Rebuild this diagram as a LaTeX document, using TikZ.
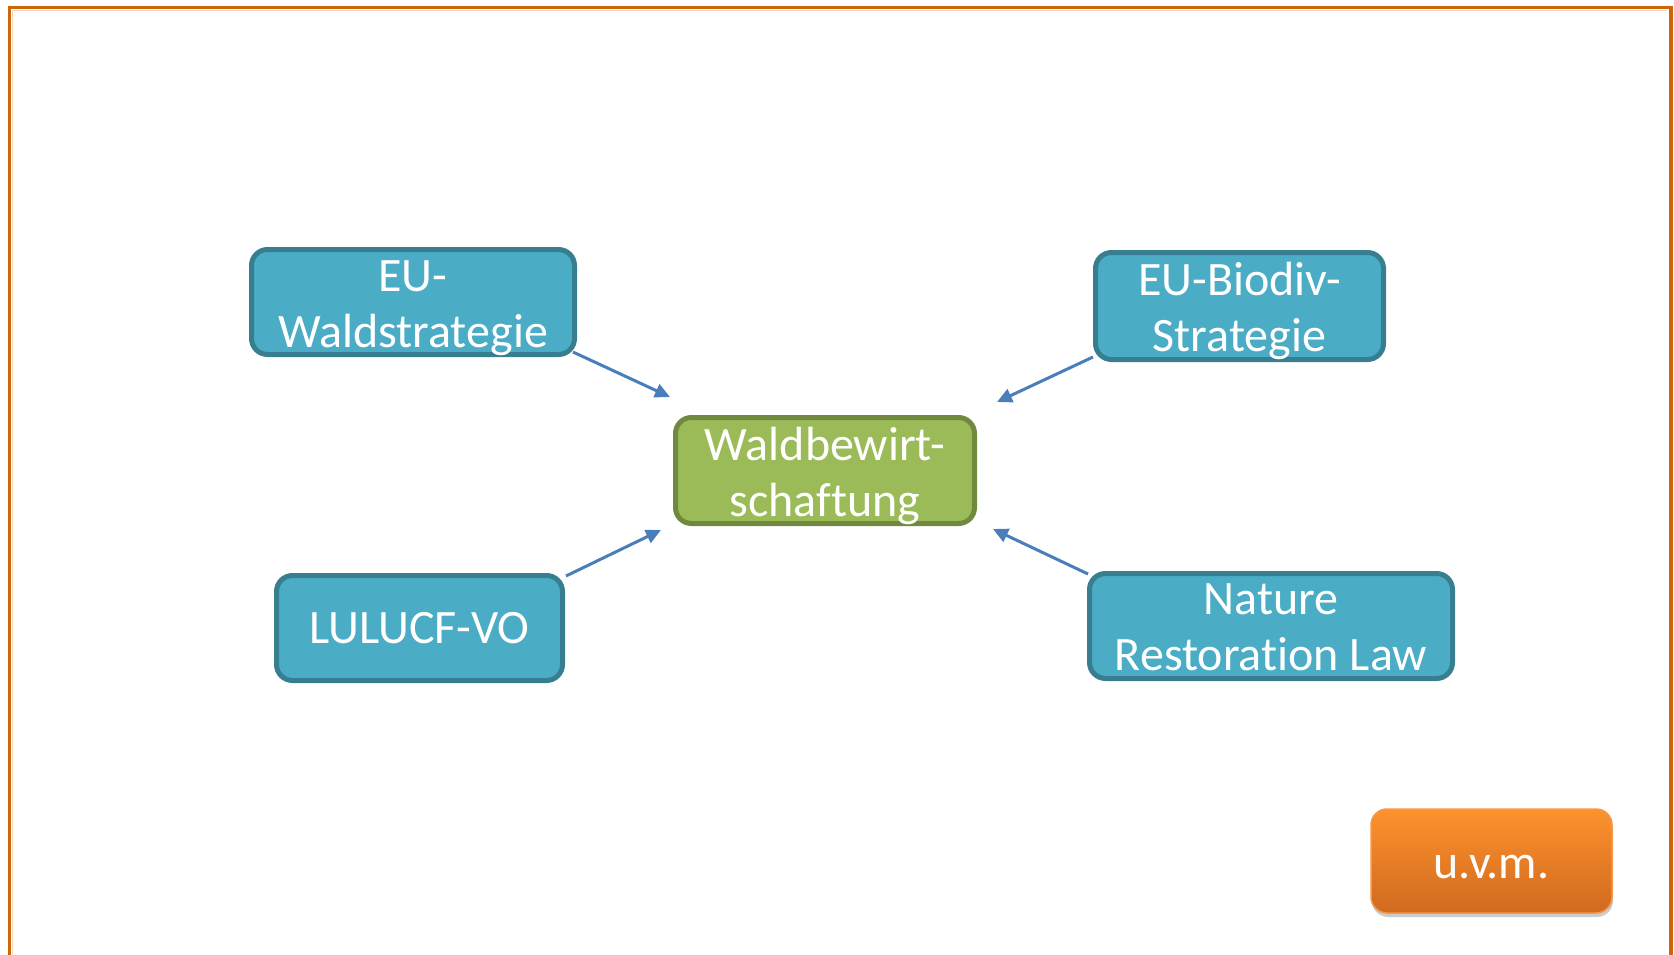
\documentclass[tikz,border=0pt]{standalone}
\usepackage{fontspec}
\setmainfont{Carlito}[Ligatures={NoCommon}]
\usetikzlibrary{arrows.meta,shadows,calc}
\definecolor{frameorange}{HTML}{CC660E}
\definecolor{framelight}{HTML}{F8D3B4}
\definecolor{bluefill}{HTML}{4BACC6}
\definecolor{blueedge}{HTML}{377E91}
\definecolor{greenfill}{HTML}{9BBB59}
\definecolor{greenedge}{HTML}{71893F}
\definecolor{arrowblue}{HTML}{4A7EBB}
\definecolor{orangetop}{HTML}{FD922E}
\definecolor{orangebot}{HTML}{D06A1E}
\definecolor{orangeedge}{HTML}{F79646}
\begin{document}
\begin{tikzpicture}[x=1pt,y=-1pt,
  box/.style={rectangle, rounded corners=16pt, line width=5pt, inner sep=0pt},
  bluebox/.style={box, draw=blueedge, fill=bluefill},
  greenbox/.style={box, draw=greenedge, fill=greenfill},
  orangebox/.style={rectangle, rounded corners=16pt, line width=1.5pt, inner sep=0pt,
    draw=orangeedge, top color=orangetop, bottom color=orangebot,
    drop shadow={shadow xshift=1pt, shadow yshift=-4pt, fill=black!40, opacity=0.5}},
  txt/.style={text=white, align=center, inner sep=0pt, font=\fontsize{48pt}{56pt}\selectfont},
  conn/.style={draw=arrowblue, line width=3pt, -{Triangle[length=15pt,width=14pt]}}]
\useasboundingbox (0,0) rectangle (1674,955);
% page frame
\draw[framelight, line width=1pt] (12.5,10.5) -- (1667,10.5);
\draw[framelight, line width=1pt] (12.5,10.5) -- (12.5,960);
\draw[frameorange, line width=3.5pt] (9.5,960) -- (9.5,7.5) -- (1671,7.5) -- (1671,960);
% boxes
\node[bluebox, minimum width=323pt, minimum height=105pt] (wald) at (413,302) {};
\node[txt] (waldT) at ([yshift=-6pt]wald.center) {EU-\\Waldstrategie};
\node[greenbox, minimum width=299pt, minimum height=106pt] (mgmt) at (825,470.5) {};
\node[txt] (mgmtT) at ([yshift=-5pt]mgmt.center) {Waldbewirt-\\schaftung};
\node[bluebox, minimum width=288pt, minimum height=107pt] (bio) at (1239.5,306) {};
\node[txt] (bioT) at ([yshift=-5pt]bio.center) {EU-Biodiv-\\Strategie};
\node[bluebox, minimum width=286pt, minimum height=105pt] (lulu) at (419.5,628) {};
\node[txt] (luluT) at (lulu.center) {LULUCF-VO};
\node[bluebox, minimum width=363pt, minimum height=105pt] (nat) at (1271,626) {};
\node[txt] (natT) at ([yshift=-1pt]nat.center) {Nature\\Restoration Law};
\node[orangebox, minimum width=241pt, minimum height=104pt] (uvm) at (1491.5,861) {};
\node[txt] (uvmT) at ([yshift=-6pt]uvm.center) {u.v.m.};
% connector end points
\coordinate (a1) at ($(wald.south east)+(-4,-5)$);
\coordinate (a2) at ($(mgmt.north west)+(-3,-18)$);
\coordinate (b1) at ($(bio.south west)+(0,-5)$);
\coordinate (b2) at ($(mgmt.north east)+(20,-13)$);
\coordinate (c1) at ($(lulu.north east)+(1,3)$);
\coordinate (c2) at ($(mgmt.south west)+(-12,4)$);
\coordinate (d1) at ($(nat.north west)+(1,3)$);
\coordinate (d2) at ($(mgmt.south east)+(16,3)$);
\draw[conn] (a1) -- (a2);
\draw[conn] (b1) -- (b2);
\draw[conn] (c1) -- (c2);
\draw[conn] (d1) -- (d2);
\end{tikzpicture}
\end{document}
